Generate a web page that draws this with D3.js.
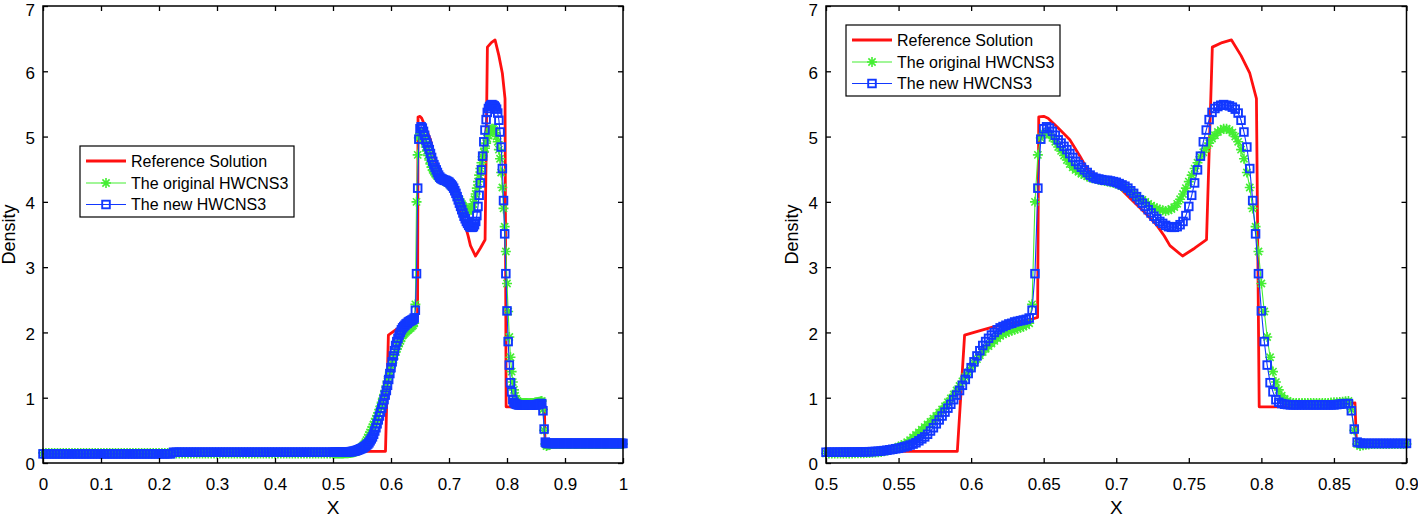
<!DOCTYPE html>
<html><head><meta charset="utf-8">
<script src="https://cdn.jsdelivr.net/npm/d3@7"></script>
<style>
body{margin:0;background:#fff;}
svg{display:block;font-family:"Liberation Sans",Arial,Helvetica,sans-serif;}
</style></head><body>
<svg id="chart" width="1418" height="517"></svg>
<script>
// ---------------- DATA ----------------
const seriesNames = ["Reference Solution", "The original HWCNS3", "The new HWCNS3"];
const yLabel = "Density";
const xLabel = "X";
const yTicks = [0, 1, 2, 3, 4, 5, 6, 7];
const yTickLabels = ["0", "1", "2", "3", "4", "5", "6", "7"];
const xTicksLeft = [0, 0.1, 0.2, 0.3, 0.4, 0.5, 0.6, 0.7, 0.8, 0.9, 1];
const xTickLabelsLeft = ["0", "0.1", "0.2", "0.3", "0.4", "0.5", "0.6", "0.7", "0.8", "0.9", "1"];
const xTicksRight = [0.5, 0.55, 0.6, 0.65, 0.7, 0.75, 0.8, 0.85, 0.9];
const xTickLabelsRight = ["0.5", "0.55", "0.6", "0.65", "0.7", "0.75", "0.8", "0.85", "0.9"];

// Reference solution (polyline vertices)
const refX = [0, 0.5905, 0.5955, 0.605, 0.616, 0.630, 0.640, 0.6458, 0.6466, 0.650, 0.653, 0.660, 0.668, 0.675, 0.680, 0.686, 0.695, 0.703, 0.712, 0.720, 0.728, 0.733, 0.737, 0.7457, 0.754, 0.7622, 0.7662, 0.773, 0.7794, 0.786, 0.792, 0.7966, 0.7985, 0.808, 0.830, 0.850, 0.8645, 0.8655, 1.0];
const refY = [0.17, 0.18, 1.96, 2.02, 2.09, 2.15, 2.19, 2.23, 5.30, 5.31, 5.28, 5.13, 4.95, 4.70, 4.50, 4.38, 4.31, 4.20, 4.00, 3.83, 3.64, 3.48, 3.33, 3.17, 3.29, 3.42, 6.37, 6.44, 6.48, 6.24, 5.97, 5.58, 0.86, 0.86, 0.87, 0.89, 0.92, 0.30, 0.30];

// Numerical solutions: coarse sampling on [0,0.5), step 0.005
const coarseStart = 0, coarseStep = 0.005;
const origCoarse = [
  .155,.155,.155,.155,.155,.155,.155,.155,.155,.155,
  .155,.155,.155,.155,.155,.155,.155,.155,.155,.155,
  .155,.155,.155,.155,.155,.155,.155,.155,.155,.155,
  .155,.155,.155,.155,.155,.155,.155,.155,.155,.155,
  .155,.155,.155,.155,.155,.145,.145,.145,.145,.145,
  .145,.145,.145,.145,.145,.145,.145,.145,.145,.145,
  .145,.145,.145,.145,.145,.145,.145,.145,.145,.145,
  .145,.145,.145,.145,.145,.145,.145,.145,.145,.145,
  .145,.145,.145,.145,.145,.145,.145,.145,.145,.145,
  .145,.145,.145,.145,.145,.145,.145,.145,.145,.145
];
const newCoarse = [
  .14,.14,.14,.14,.14,.14,.14,.14,.14,.14,
  .14,.14,.14,.14,.14,.14,.14,.14,.14,.14,
  .14,.14,.14,.14,.14,.14,.14,.14,.14,.14,
  .14,.14,.14,.14,.14,.14,.14,.14,.14,.14,
  .14,.14,.14,.14,.14,.165,.165,.165,.165,.165,
  .165,.165,.165,.165,.165,.165,.165,.165,.165,.165,
  .165,.165,.165,.165,.165,.165,.165,.165,.165,.165,
  .165,.165,.165,.165,.165,.165,.165,.165,.165,.165,
  .165,.165,.165,.165,.165,.165,.165,.165,.165,.165,
  .165,.165,.165,.165,.165,.165,.165,.165,.165,.165
];
// fine sampling on [0.5,1], step 0.002
const fineStart = 0.5, fineStep = 0.002;
const origFine = [
  .145,.145,.145,.145,.145,.146,.146,.146,.147,.147,
  .148,.149,.150,.151,.152,.154,.156,.159,.163,.170,
  .180,.190,.200,.215,.230,.250,.270,.290,.320,.350,
  .390,.430,.470,.510,.550,.590,.630,.680,.720,.770,
  .820,.870,.930,.990,1.05,1.11,1.18,1.25,1.32,1.39,
  1.46,1.53,1.59,1.65,1.70,1.75,1.79,1.83,1.87,1.91,
  1.95,1.97,1.99,2.01,2.03,2.04,2.06,2.07,2.09,2.11,
  2.14,2.43,4.00,4.72,4.98,5.05,5.06,5.03,4.98,4.92,
  4.84,4.78,4.71,4.64,4.58,4.53,4.49,4.46,4.43,4.41,
  4.39,4.37,4.36,4.35,4.34,4.33,4.32,4.31,4.30,4.29,
  4.28,4.26,4.24,4.22,4.19,4.16,4.12,4.08,4.05,4.03,
  4.00,3.97,3.94,3.92,3.90,3.88,3.87,3.86,3.87,3.89,
  3.92,3.97,4.04,4.12,4.21,4.31,4.41,4.51,4.60,4.69,
  4.76,4.82,4.90,4.97,5.02,5.07,5.10,5.12,5.12,5.10,
  5.06,5.00,4.92,4.80,4.66,4.45,4.22,3.90,3.62,3.24,
  2.75,2.32,1.93,1.62,1.40,1.24,1.12,1.03,.98,.95,
  .93,.92,.92,.92,.92,.92,.92,.92,.92,.92,
  .92,.92,.92,.92,.925,.93,.93,.935,.94,.945,
  .95,.82,.50,.29,.26,.27,.28,.285,.29,.29,
  .29,.29,.29,.29,.29,.29,.29,.29,.29,.29,
  .29,.29,.29,.29,.29,.29,.29,.29,.29,.29,
  .29,.29,.29,.29,.29,.29,.29,.29,.29,.29,
  .29,.29,.29,.29,.29,.29,.29,.29,.29,.29,
  .29,.29,.29,.29,.29,.29,.29,.29,.29,.29,
  .29,.29,.29,.29,.29,.29,.29,.29,.29,.29,
  .29
];
const newFine = [
  .165,.165,.165,.165,.166,.166,.166,.167,.167,.168,
  .168,.169,.170,.171,.172,.173,.175,.177,.180,.184,
  .190,.196,.203,.210,.218,.225,.235,.248,.260,.275,
  .290,.310,.340,.370,.400,.440,.490,.540,.600,.660,
  .720,.780,.840,.900,.970,1.04,1.11,1.19,1.28,1.37,
  1.46,1.55,1.64,1.72,1.80,1.86,1.91,1.96,2.00,2.04,
  2.07,2.09,2.11,2.13,2.14,2.16,2.17,2.18,2.19,2.20,
  2.22,2.34,2.90,4.21,4.96,5.12,5.15,5.13,5.08,5.02,
  4.95,4.90,4.85,4.80,4.74,4.68,4.62,4.57,4.53,4.49,
  4.45,4.41,4.38,4.36,4.35,4.34,4.33,4.33,4.32,4.31,
  4.30,4.28,4.26,4.24,4.21,4.17,4.13,4.08,4.03,3.98,
  3.93,3.88,3.83,3.78,3.74,3.70,3.67,3.64,3.62,3.61,
  3.61,3.62,3.65,3.70,3.79,3.93,4.10,4.29,4.49,4.70,
  4.92,5.10,5.26,5.37,5.43,5.46,5.48,5.49,5.48,5.47,
  5.45,5.42,5.36,5.25,5.07,4.84,4.51,4.02,3.51,2.90,
  2.33,1.86,1.50,1.23,1.09,.97,.93,.91,.90,.895,
  .89,.89,.89,.89,.89,.89,.89,.89,.89,.89,
  .89,.89,.89,.89,.89,.89,.895,.90,.905,.91,
  .91,.80,.52,.32,.305,.30,.30,.30,.30,.30,
  .30,.30,.30,.30,.30,.30,.30,.30,.30,.30,
  .30,.30,.30,.30,.30,.30,.30,.30,.30,.30,
  .30,.30,.30,.30,.30,.30,.30,.30,.30,.30,
  .30,.30,.30,.30,.30,.30,.30,.30,.30,.30,
  .30,.30,.30,.30,.30,.30,.30,.30,.30,.30,
  .30,.30,.30,.30,.30,.30,.30,.30,.30,.30,
  .30
];

// ---------------- BUILD ----------------
const refPts = refX.map((x, i) => ({x, y: refY[i]}));
function sampled(coarse, fine) {
  const a = coarse.map((y, i) => ({x: coarseStart + i * coarseStep, y}));
  const b = fine.map((y, i) => ({x: fineStart + i * fineStep, y}));
  return a.concat(b);
}
const origPts = sampled(origCoarse, origFine);
const newPts = sampled(newCoarse, newFine);

const COLORS = {ref: "#ff1010", orig: "#44ee33", nw: "#1238ff"};
const svg = d3.select("#chart");
const defs = svg.append("defs");

function starPath(r) {
  const d = r * 0.72;
  return `M${-r},0H${r}M0,${-r}V${r}M${-d},${-d}L${d},${d}M${-d},${d}L${d},${-d}`;
}
const SQ = 7.6;
const STAR_R = 5;

function panel(opt) {
  const x = d3.scaleLinear().domain(opt.domain).range([opt.left, opt.right]);
  const y = d3.scaleLinear().domain([0, 7]).range([463, 6]);
  const top = 6, bottom = 463;
  const clipId = opt.id + "-clip";
  defs.append("clipPath").attr("id", clipId).append("rect")
    .attr("x", opt.left).attr("y", top).attr("width", opt.right - opt.left).attr("height", bottom - top);
  const g = svg.append("g");
  const line = d3.line().x(d => x(d.x)).y(d => y(d.y));
  const inDom = d => d.x >= opt.domain[0] - 1e-9 && d.x <= opt.domain[1] + 1e-9;

  // reference
  g.append("path").datum(refPts).attr("d", line).attr("clip-path", `url(#${clipId})`)
    .attr("fill", "none").attr("stroke", COLORS.ref).attr("stroke-width", 2.8).attr("stroke-linejoin", "round");

  // original HWCNS3 (green stars)
  const oP = origPts.filter(inDom);
  g.append("path").datum(oP).attr("d", line)
    .attr("fill", "none").attr("stroke", COLORS.orig).attr("stroke-width", 1.1);
  g.append("g").selectAll("path").data(oP).join("path")
    .attr("transform", d => `translate(${x(d.x)},${y(d.y)})`)
    .attr("d", starPath(STAR_R)).attr("fill", "none").attr("stroke", COLORS.orig).attr("stroke-width", 1.6);

  // new HWCNS3 (blue squares)
  const nP = newPts.filter(inDom);
  g.append("path").datum(nP).attr("d", line)
    .attr("fill", "none").attr("stroke", COLORS.nw).attr("stroke-width", 1.1);
  g.append("g").selectAll("rect").data(nP).join("rect")
    .attr("x", d => x(d.x) - SQ / 2).attr("y", d => y(d.y) - SQ / 2)
    .attr("width", SQ).attr("height", SQ)
    .attr("fill", "none").attr("stroke", COLORS.nw).attr("stroke-width", 1.9);

  // axes
  const styleAxis = sel => {
    sel.select(".domain").remove();
    sel.selectAll("line").attr("stroke", "#000").attr("stroke-width", 1.3);
    sel.selectAll("text").attr("fill", "#000").attr("font-size", 17)
      .attr("font-family", "'Liberation Sans', Arial, Helvetica, sans-serif");
  };
  svg.append("g").attr("transform", `translate(0,${bottom})`)
    .call(d3.axisBottom(x).tickValues(opt.ticks).tickFormat((d, i) => opt.labels[i])
      .tickSizeInner(-5).tickSizeOuter(0).tickPadding(15)).call(styleAxis);
  svg.append("g").attr("transform", `translate(0,${top})`)
    .call(d3.axisTop(x).tickValues(opt.ticks).tickFormat("")
      .tickSizeInner(-5).tickSizeOuter(0)).call(styleAxis);
  svg.append("g").attr("transform", `translate(${opt.left},0)`)
    .call(d3.axisLeft(y).tickValues(yTicks).tickFormat((d, i) => yTickLabels[i])
      .tickSizeInner(-5).tickSizeOuter(0).tickPadding(8)).call(styleAxis)
    .call(sel => sel.selectAll("text").attr("dy", d => d === 7 ? "0.56em" : "0.40em"));
  svg.append("g").attr("transform", `translate(${opt.right},0)`)
    .call(d3.axisRight(y).tickValues(yTicks).tickFormat("")
      .tickSizeInner(-5).tickSizeOuter(0)).call(styleAxis);

  svg.append("rect").attr("x", opt.left).attr("y", top)
    .attr("width", opt.right - opt.left).attr("height", bottom - top)
    .attr("fill", "none").attr("stroke", "#000").attr("stroke-width", 1.5);

  // axis titles
  svg.append("text").attr("x", (opt.left + opt.right) / 2).attr("y", 514)
    .attr("text-anchor", "middle").attr("font-size", 19).attr("fill", "#000").text(xLabel);
  svg.append("text").attr("transform", `translate(${opt.left - 28},${(top + bottom) / 2}) rotate(-90)`)
    .attr("text-anchor", "middle").attr("font-size", 18).attr("fill", "#000").text(yLabel);

  // legend
  const lg = svg.append("g").attr("transform", `translate(${opt.legX},${opt.legY})`);
  lg.append("rect").attr("width", 214).attr("height", 71).attr("fill", "#fff")
    .attr("stroke", "#000").attr("stroke-width", 1.2);
  const rows = [15, 37, 58.5];
  const colorsArr = [COLORS.ref, COLORS.orig, COLORS.nw];
  rows.forEach((ry, i) => {
    lg.append("line").attr("x1", 6).attr("x2", 46).attr("y1", ry).attr("y2", ry)
      .attr("stroke", colorsArr[i]).attr("stroke-width", i === 0 ? 2.8 : 1.1);
    if (i === 1) lg.append("path").attr("transform", `translate(26,${ry})`).attr("d", starPath(STAR_R))
      .attr("fill", "none").attr("stroke", COLORS.orig).attr("stroke-width", 1.6);
    if (i === 2) lg.append("rect").attr("x", 26 - SQ / 2).attr("y", ry - SQ / 2).attr("width", SQ).attr("height", SQ)
      .attr("fill", "none").attr("stroke", COLORS.nw).attr("stroke-width", 1.9);
    lg.append("text").attr("x", 51).attr("y", ry).attr("dy", "0.36em")
      .attr("font-size", 16).attr("fill", "#000").text(seriesNames[i]);
  });
}

panel({id: "left", domain: [0, 1], left: 43, right: 623, ticks: xTicksLeft, labels: xTickLabelsLeft, legX: 80, legY: 146});
panel({id: "right", domain: [0.5, 0.9], left: 826, right: 1406.5, ticks: xTicksRight, labels: xTickLabelsRight, legX: 846, legY: 25});
</script>
</body></html>
